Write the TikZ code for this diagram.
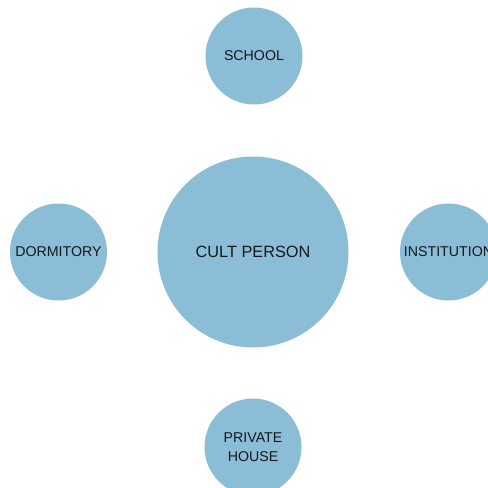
\documentclass[tikz,border=0pt]{standalone}
\usepackage{fontspec}
\setmainfont{Liberation Sans}
\definecolor{bubble}{RGB}{139,189,214}
\definecolor{ink}{RGB}{20,25,30}
\tikzset{
  bub/.style={circle, fill=bubble, draw=none, inner sep=0pt, text=ink, align=center},
  big/.style={bub, minimum size=191pt, font=\fontsize{16.3}{19}\selectfont},
  small/.style={bub, minimum size=97pt, font=\fontsize{14.2}{19.5}\selectfont}
}
\begin{document}
\begin{tikzpicture}[x=1pt,y=1pt]
\clip (0,0) rectangle (488,-488);
\fill[white] (0,0) rectangle (488,-488);
\node[big] (cult) at (253,-252) {CULT PERSON};
\node[small] (school) at (254,-56) {SCHOOL};
\node[small] (dorm) at (58.5,-252) {DORMITORY};
\node[small] (inst) at (448.5,-252) {INSTITUTION};
\node[small] (house) at (253,-447) {PRIVATE\\HOUSE};
\end{tikzpicture}
\end{document}
